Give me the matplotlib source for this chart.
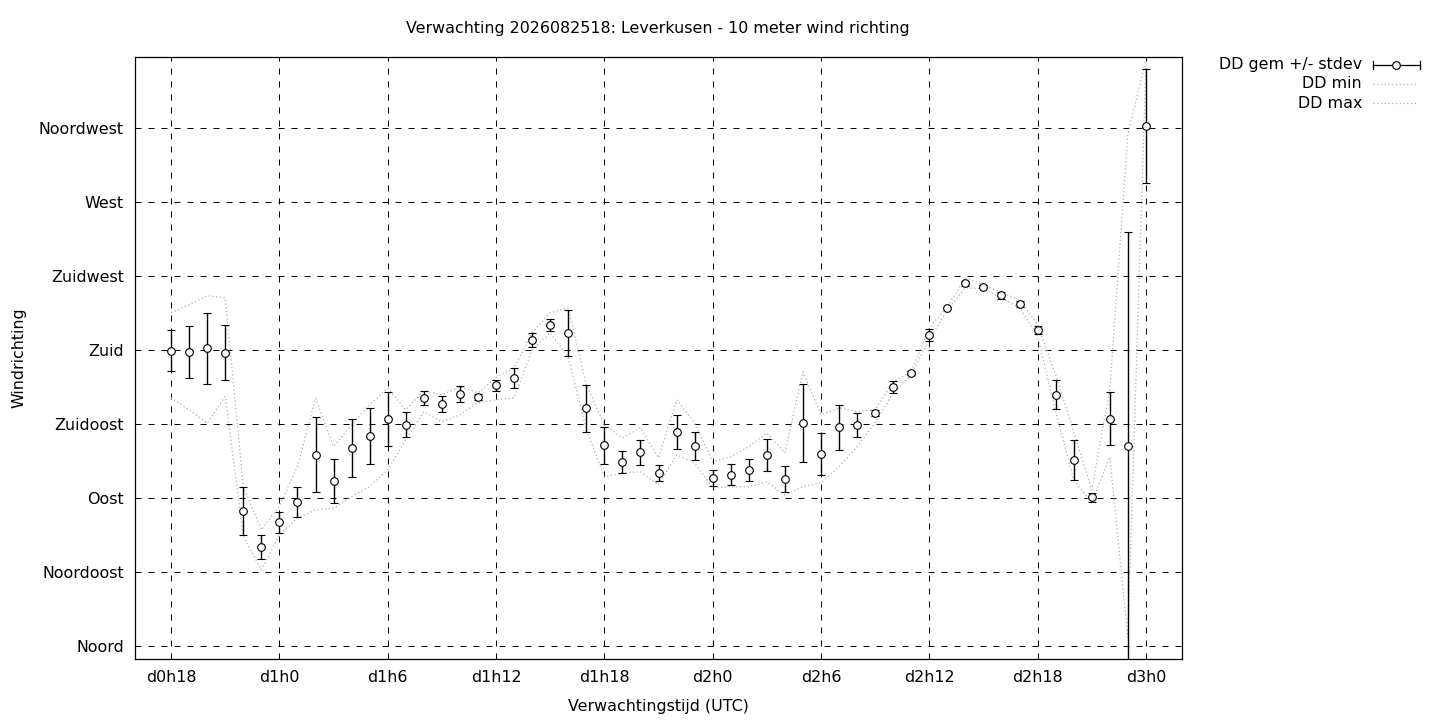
import matplotlib
matplotlib.use('Agg')
import matplotlib.pyplot as plt
from matplotlib.lines import Line2D

# forecast hours counted from d0h0
hours = list(range(18, 73))

dd_mean = [179.4, 178.6, 181.0, 178.2, 82.1, 60.0, 75.2, 87.4, 116.1, 100.2,
           120.2, 127.7, 137.9, 134.4, 150.6, 147.0, 153.1, 151.4, 158.5, 163.0,
           185.9, 195.0, 190.2, 144.5, 122.0, 111.7, 117.8, 105.0, 130.0, 121.4,
           102.2, 104.0, 107.0, 116.1, 101.4, 135.4, 116.6, 133.0, 134.4, 141.5,
           157.5, 165.8, 188.9, 205.4, 220.4, 218.3, 213.1, 207.8, 192.2, 152.6,
           113.0, 90.2, 138.2, 121.6, 316.2]

dd_std = [12.5, 16.0, 21.6, 16.7, 14.7, 7.2, 6.4, 9.3, 22.8, 13.1,
          17.6, 17.2, 16.7, 7.6, 4.4, 4.6, 5.0, 2.0, 3.3, 6.1,
          4.0, 3.8, 14.0, 14.3, 11.3, 6.7, 7.6, 4.7, 10.6, 8.5,
          4.8, 6.3, 6.8, 9.5, 7.8, 23.6, 12.9, 13.7, 7.2, 2.0,
          3.6, 1.0, 3.6, 0.8, 1.5, 1.0, 2.0, 2.0, 2.5, 8.8,
          12.2, 2.8, 16.0, 130.3, 34.8]

dd_min = [150.8, 143.5, 135.4, 151.6, 66.5, 46.2, 67.5, 77.7, 82.7, 83.7,
          90.8, 96.9, 107.0, 125.3, 142.3, 136.2, 140.5, 147.8, 149.6, 150.8,
          180.0, 190.3, 175.7, 131.4, 102.8, 105.2, 105.8, 97.9, 116.1, 111.3,
          96.1, 96.7, 96.7, 99.7, 91.8, 96.7, 99.1, 108.9, 121.0, 135.6,
          153.9, 164.8, 186.1, 204.3, 217.7, 217.1, 211.6, 205.5, 188.5, 142.3,
          100.9, 87.0, 114.9, 4.9, 353.3]

dd_max = [202.5, 207.4, 212.8, 211.6, 96.7, 70.5, 85.1, 109.0, 150.6, 121.2,
          134.4, 146.6, 156.7, 143.5, 155.0, 152.6, 157.5, 153.9, 163.0, 169.1,
          190.3, 202.5, 205.5, 158.7, 134.4, 126.5, 132.6, 114.3, 149.6, 135.6,
          112.0, 114.9, 121.0, 129.5, 117.4, 166.6, 140.5, 144.7, 142.3, 143.5,
          160.5, 166.6, 193.4, 206.1, 223.8, 219.5, 214.7, 210.4, 195.2, 164.8,
          130.1, 94.9, 155.7, 310.7, 356.4]

dir_ticks = [0, 45, 90, 135, 180, 225, 270, 315]
dir_labels = ['Noord', 'Noordoost', 'Oost', 'Zuidoost', 'Zuid', 'Zuidwest', 'West', 'Noordwest']
time_ticks = [18, 24, 30, 36, 42, 48, 54, 60, 66, 72]
time_labels = ['d0h18', 'd1h0', 'd1h6', 'd1h12', 'd1h18', 'd2h0', 'd2h6', 'd2h12', 'd2h18', 'd3h0']

W, H = 1440, 720
fig = plt.figure(figsize=(W / 100, H / 100), dpi=100)
ax = fig.add_axes([135 / W, 1 - 659 / H, (1182 - 135) / W, (659 - 57) / H])

fs = 11.4
grey = '#b0b0b0'

ax.plot(hours, dd_min, color=grey, lw=0.9, linestyle=(0, (1, 2)), zorder=2)
ax.plot(hours, dd_max, color=grey, lw=0.9, linestyle=(0, (1, 2)), zorder=2)
ax.errorbar(hours, dd_mean, yerr=dd_std, fmt='o', color='black', mfc='white',
            mec='black', ms=5.5, mew=0.8, elinewidth=1.0, capsize=3,
            capthick=1.0, zorder=3)

ax.set_xlim(16, 74)
ax.set_ylim(-8, 358)
ax.set_xticks(time_ticks)
ax.set_xticklabels(time_labels)
ax.set_yticks(dir_ticks)
ax.set_yticklabels(dir_labels)
ax.tick_params(length=0, labelsize=fs, pad=8)
ax.grid(True, color='black', lw=0.72, linestyle=(0, (6, 7)))
ax.set_axisbelow(True)
for s in ax.spines.values():
    s.set_linewidth(0.9)

ax.set_xlabel('Verwachtingstijd (UTC)', fontsize=fs, labelpad=10)
ax.set_ylabel('Windrichting', fontsize=fs, labelpad=9)
fig.text(658 / W, 1 - 29 / H, 'Verwachting 2026082518: Leverkusen - 10 meter wind richting',
         ha='center', va='center', fontsize=fs)

# legend, drawn by hand in the gnuplot layout
def fx(px):
    return px / W

def fy(py):
    return 1 - py / H

rows = [('DD gem +/- stdev', 65), ('DD min', 84), ('DD max', 103)]
for i, (lab, py) in enumerate(rows):
    fig.text(fx(1362), fy(py), lab, ha='right', va='center', fontsize=fs)
    if i == 0:
        fig.add_artist(Line2D([fx(1373), fx(1420)], [fy(py), fy(py)], color='black', lw=0.9))
        for cx in (1373, 1420):
            fig.add_artist(Line2D([fx(cx), fx(cx)], [fy(py - 4), fy(py + 4)], color='black', lw=0.9))
        fig.add_artist(Line2D([fx(1396)], [fy(py)], marker='o', ms=5.5, mfc='white',
                              mec='black', mew=0.8, color='black'))
    else:
        fig.add_artist(Line2D([fx(1373), fx(1418)], [fy(py), fy(py)], color=grey,
                              lw=0.9, linestyle=(0, (1, 2))))

fig.savefig('out.png', dpi=100)
